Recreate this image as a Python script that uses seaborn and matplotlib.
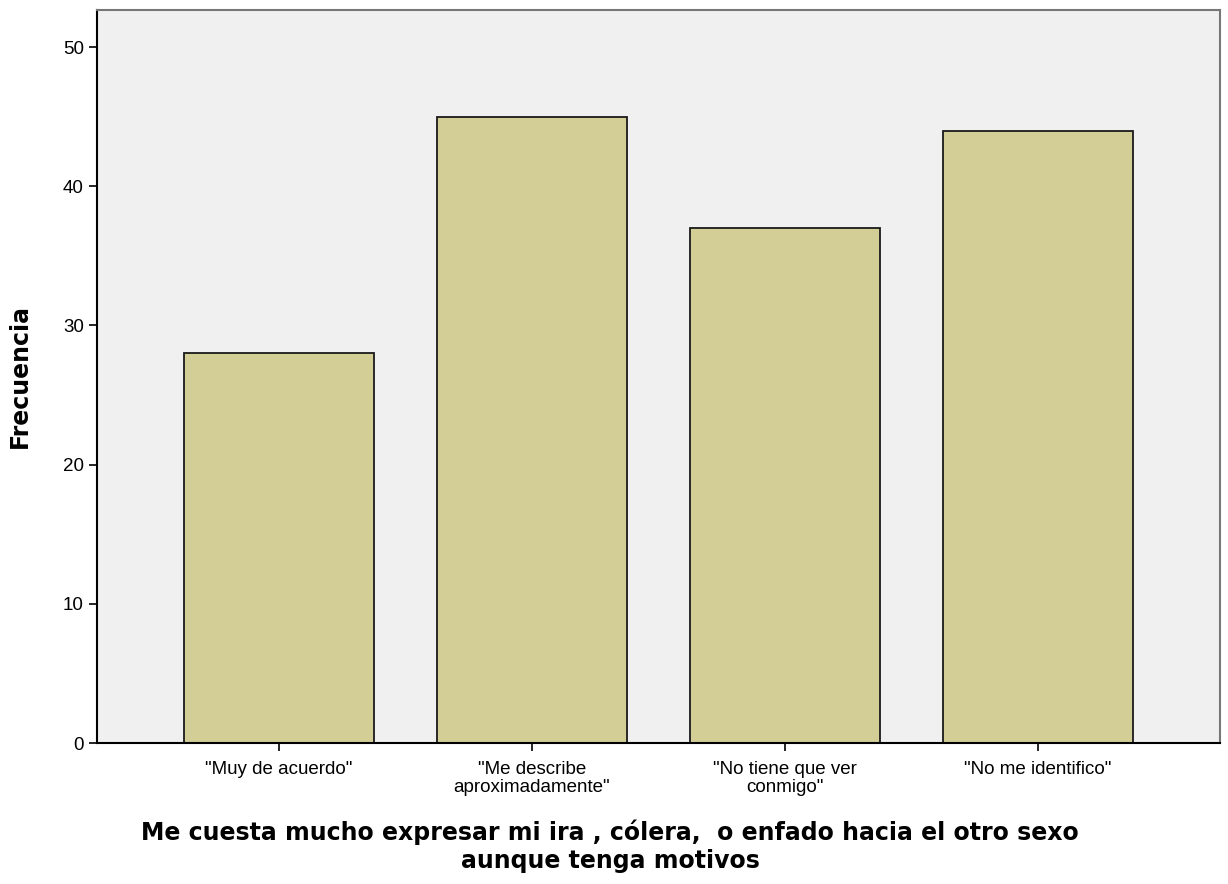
import pandas as pd
import matplotlib.pyplot as plt
import seaborn as sns

# datos
categorias = ['"Muy de acuerdo"', '"Me describe\naproximadamente"',
              '"No tiene que ver\nconmigo"', '"No me identifico"']
frecuencias = [28, 45, 37, 44]
yticks = [0, 10, 20, 30, 40, 50]

df = pd.DataFrame({'categoria': categorias, 'frecuencia': frecuencias})

sns.set_style('white')
plt.rcParams['font.family'] = ['Liberation Sans', 'DejaVu Sans']
plt.rcParams['text.color'] = 'black'
plt.rcParams['axes.labelcolor'] = 'black'
plt.rcParams['xtick.color'] = 'black'
plt.rcParams['ytick.color'] = 'black'

fig = plt.figure(figsize=(12.28, 8.84), dpi=100)
ax = fig.add_axes([97 / 1228, 1 - 743 / 884, (1220 - 97) / 1228, (743 - 10) / 884])

sns.barplot(data=df, x='categoria', y='frecuencia', color='#d3cd96',
            edgecolor='#1a1a1a', linewidth=1.3, width=0.75, saturation=1, ax=ax)

ax.set_facecolor('#f0f0f0')
ax.set_xlim(-0.72, 3.72)
ax.set_ylim(0, 52.66)
ax.set_yticks(yticks)
ax.tick_params(axis='both', direction='out', length=6, width=1.2, color='black',
               labelsize=13.5, left=True, bottom=True)
ax.tick_params(axis='x', pad=7)
for lbl in ax.get_xticklabels():
    lbl.set_linespacing(1.05)

for s in ['left', 'bottom']:
    ax.spines[s].set_color('black')
    ax.spines[s].set_linewidth(1.5)
for s in ['top', 'right']:
    ax.spines[s].set_color('#777777')
    ax.spines[s].set_linewidth(1.5)

ax.set_ylabel('Frecuencia', fontsize=17, fontweight='bold', family='DejaVu Sans', labelpad=22)
ax.set_xlabel('Me cuesta mucho expresar mi ira , cólera,  o enfado hacia el otro sexo\naunque tenga motivos',
              fontsize=17, fontweight='bold', family='DejaVu Sans', linespacing=1.2)
ax.xaxis.set_label_coords((610 - 97) / 1123, -0.141)
ax.xaxis.label.set_va('center')

plt.savefig('out.png', dpi=100)
